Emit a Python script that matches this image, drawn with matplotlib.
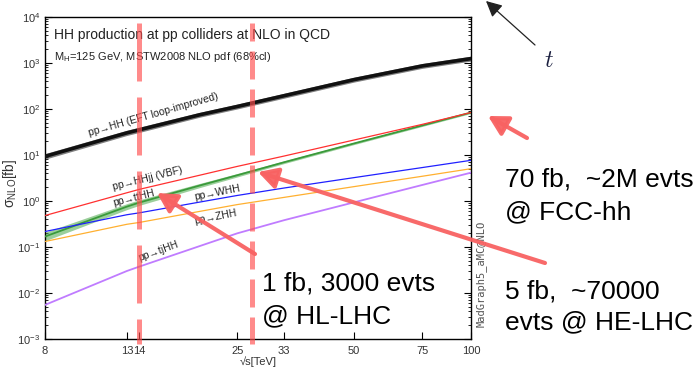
import matplotlib
matplotlib.use("Agg")
import matplotlib.pyplot as plt
import numpy as np
from matplotlib.patches import FancyArrowPatch

plt.rcParams.update(
    {
        "font.family": ["Liberation Sans", "DejaVu Sans"],
        "mathtext.fontset": "custom",
        "mathtext.rm": "Liberation Sans",
        "mathtext.it": "Liberation Sans:italic",
        "axes.unicode_minus": False,
    }
)

W, H = 700, 382

# cross sections in fb vs sqrt(s) in TeV
sqrts = [8, 13, 14, 20, 25, 33, 50, 75, 100]
xs_hh = [9.25, 30, 35, 74, 112, 192, 430, 855, 1230]
xs_vbf = [0.48, 1.5, 1.78, 3.6, 5.6, 9.4, 21, 46, 83]
xs_tthh = [0.168, 0.75, 0.92, 2.15, 3.6, 6.9, 17.7, 43.6, 83]
xs_whh = [0.216, 0.50, 0.55, 0.94, 1.31, 1.9, 3.2, 5.3, 7.6]
xs_zhh = [0.131, 0.31, 0.34, 0.59, 0.83, 1.19, 2.04, 3.43, 5.0]
xs_tjhh = [0.0055, 0.030, 0.0374, 0.104, 0.197, 0.38, 0.93, 2.22, 4.1]
# relative uncertainty of the shaded bands
unc_hh = [0.15, 0.14, 0.14, 0.13, 0.13, 0.13, 0.13, 0.13, 0.13]
unc_tthh = [0.24, 0.16, 0.15, 0.11, 0.09, 0.07, 0.06, 0.05, 0.05]

x_ticks = [8, 13, 14, 25, 33, 50, 75, 100]
y_decades = [-3, -2, -1, 0, 1, 2, 3, 4]
collider_energies = [14, 27.3]


def fpos(x, y):
    return (x / W, 1 - y / H)


fig = plt.figure(figsize=(W / 100, H / 100), dpi=100)
ax = fig.add_axes([45 / W, 1 - 339 / H, 426 / W, 322.3 / H])
ax.set_xscale("log")
ax.set_yscale("log")
ax.set_xlim(8, 100)
ax.set_ylim(1e-3, 1e4)

x = np.array(sqrts, dtype=float)

hh = np.array(xs_hh)
ax.fill_between(x, hh / (1 + np.array(unc_hh)), hh * (1 + np.array(unc_hh)),
                color="#2a2a2a", alpha=0.6, lw=0, zorder=2)
ax.plot(x, hh, color="#111111", lw=2.6, zorder=3)

tthh = np.array(xs_tthh)
ax.fill_between(x, tthh / (1 + np.array(unc_tthh)), tthh * (1 + np.array(unc_tthh)),
                color="#4aa84a", alpha=0.55, lw=0, zorder=2)
ax.plot(x, tthh, color="#3a9a3a", lw=1.3, zorder=3)

ax.plot(x, xs_vbf, color="#ff3030", lw=0.9, zorder=3)
ax.plot(x, xs_whh, color="#2020ff", lw=0.9, zorder=3)
ax.plot(x, xs_zhh, color="#ffb030", lw=0.9, zorder=3)
ax.plot(x, xs_tjhh, color="#c07cff", lw=1.3, zorder=3)

# curve labels
lab_kw = dict(fontsize=7.5, color="#222222", ha="left", va="baseline",
              rotation_mode="anchor", zorder=4)
ax.text(10.4, 25.5, "pp\u2192HH (EFT loop-improved)", rotation=16, **lab_kw)
ax.text(12.0, 1.7, "pp\u2192HHjj (VBF)", rotation=14, **lab_kw)
ax.text(12.0, 0.78, "pp\u2192ttHH", rotation=14, **lab_kw)
ax.text(19.5, 1.06, "pp\u2192WHH", rotation=11, **lab_kw)
ax.text(19.5, 0.31, "pp\u2192ZHH", rotation=11, **lab_kw)
ax.text(14.0, 0.048, "pp\u2192tjHH", rotation=20, **lab_kw)

# ticks
ax.set_xticks(x_ticks)
ax.set_xticklabels([str(v) for v in x_ticks])
ax.xaxis.set_minor_locator(matplotlib.ticker.NullLocator())
ax.set_yticks([10.0 ** k for k in y_decades])
ax.set_yticklabels([f"10$^{{{k}}}$" for k in y_decades])
minor_y = [m * 10.0 ** k for k in y_decades[:-1] for m in range(2, 10)]
ax.set_yticks(minor_y, minor=True)
ax.yaxis.set_minor_formatter(matplotlib.ticker.NullFormatter())
ax.tick_params(axis="both", which="major", direction="in", length=5, width=0.8,
               labelsize=8, labelcolor="#333333", right=True)
ax.tick_params(axis="y", which="minor", direction="in", length=2.5, width=0.6, right=True)
ax.tick_params(axis="x", pad=5)
for s in ax.spines.values():
    s.set_linewidth(1.0)

ax.text(0.02, 0.93, "HH production at pp colliders at NLO in QCD", transform=ax.transAxes,
        fontsize=10, color="#222222", va="baseline")
ax.text(0.02, 0.865, r"M$_{\rm H}$=125 GeV, MSTW2008 NLO pdf (68%cl)", transform=ax.transAxes,
        fontsize=8, color="#222222", va="baseline")

fig.text(*fpos(10, 183), "\u03c3$_{\\rm NLO}$[fb]", rotation=90, ha="center", va="center",
         fontsize=10, color="#333333")
fig.text(*fpos(258, 362), "\u221as[TeV]", ha="center", va="center", fontsize=8, color="#333333")
fig.text(*fpos(481, 327), "MadGraph5_aMC@NLO", rotation=90, ha="center", va="bottom",
         fontsize=7.5, family="DejaVu Sans Mono", color="#555555")

# collider energy markers
dash_styles = [(0, (11.6, 3.2)), (2, (5.6, 2.0))]
for e, ls in zip(collider_energies, dash_styles):
    ax.plot([e, e], [0.98, -0.015], transform=ax.get_xaxis_transform(), clip_on=False,
            color="#ff4d4d", alpha=0.65, lw=3.6, linestyle=ls, zorder=6)

# annotation arrows
arrow_color = "#f86262"
for tail, head in [((255, 254), (157, 193)), ((545, 263), (258, 172)), ((527, 138), (488, 116))]:
    arr = FancyArrowPatch(fpos(*tail), fpos(*head), transform=fig.transFigure,
                          arrowstyle="-|>,head_length=0.4,head_width=0.22", mutation_scale=29,
                          lw=3.0, color=arrow_color, alpha=0.95, shrinkA=0, shrinkB=0,
                          zorder=7)
    fig.add_artist(arr)

black_arr = FancyArrowPatch(fpos(535, 45), fpos(486, 1), transform=fig.transFigure,
                            arrowstyle="-|>,head_length=0.6,head_width=0.3", mutation_scale=16,
                            lw=0.9, color="#222222", shrinkA=0, shrinkB=0)
fig.add_artist(black_arr)
fig.text(*fpos(549, 61), r"$t$", ha="center", va="center", fontsize=17, color="#1c2040",
         math_fontfamily="cm")

big_kw = dict(fontsize=19, color="black", ha="left", va="baseline")
fig.text(*fpos(262, 290), "1 fb, 3000 evts", **big_kw)
fig.text(*fpos(262, 323), "@ HL-LHC", **big_kw)
fig.text(*fpos(505, 187), "70 fb,  ~2M evts", **big_kw)
fig.text(*fpos(505, 219), "@ FCC-hh", **big_kw)
fig.text(*fpos(505, 298), "5 fb,  ~70000", **big_kw)
fig.text(*fpos(505, 329), "evts @ HE-LHC", **big_kw)

fig.savefig("out.png", dpi=100)
